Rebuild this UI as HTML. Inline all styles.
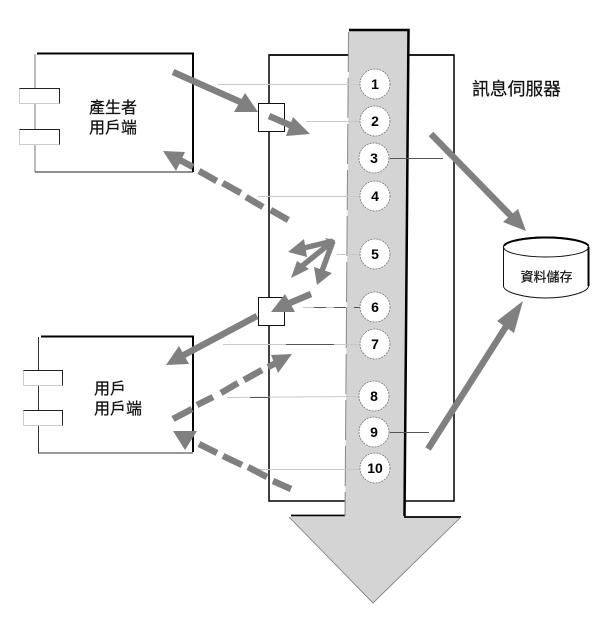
<!DOCTYPE html>
<html>
<head>
<meta charset="utf-8">
<style>
html,body{margin:0;padding:0;background:#fff;width:610px;height:625px;overflow:hidden}
svg{display:block}
text{font-family:"Liberation Sans","Noto Sans CJK TC",sans-serif;fill:#111;stroke:#111;stroke-width:.2px}
.n{font-weight:bold;font-size:14px;text-anchor:middle;fill:#000;stroke:none}
</style>
</head>
<body>
<svg width="610" height="625" viewBox="0 0 610 625" xmlns="http://www.w3.org/2000/svg">
<!-- server box -->
<rect x="269" y="55" width="185" height="446" fill="#fff" stroke="#000" stroke-width="1.500"/>

<!-- producer box -->
<rect x="35" y="54" width="158" height="118" fill="#fff" stroke="none"/>
<line x1="35" y1="54" x2="35" y2="172" stroke="#777" stroke-width="1"/>
<line x1="35" y1="172" x2="193" y2="172" stroke="#222" stroke-width="1"/>
<line x1="37" y1="53.500" x2="194" y2="53.500" stroke="#000" stroke-width="2"/>
<line x1="193" y1="53" x2="193" y2="172" stroke="#000" stroke-width="2"/>
<rect x="19.500" y="88.500" width="40" height="15" fill="#fff" stroke="#ccc" stroke-width="1"/>
<path d="M19.500 88.500H59.500V103.500" fill="none" stroke="#222" stroke-width="1"/>
<rect x="19.500" y="129.500" width="40" height="15" fill="#fff" stroke="#ccc" stroke-width="1"/>
<path d="M19.500 129.500H59.500V144.500" fill="none" stroke="#222" stroke-width="1"/>
<text x="113" y="113" font-size="16" text-anchor="middle">產生者</text>
<text x="113" y="133" font-size="16" text-anchor="middle">用戶端</text>

<!-- consumer box -->
<rect x="38" y="336" width="155" height="117" fill="#fff"/>
<line x1="38.500" y1="337" x2="38.500" y2="453" stroke="#333" stroke-width="1"/>
<line x1="38" y1="453" x2="193" y2="453" stroke="#333" stroke-width="1"/>
<line x1="41" y1="336.500" x2="194" y2="336.500" stroke="#000" stroke-width="2"/>
<line x1="193" y1="336" x2="193" y2="452" stroke="#000" stroke-width="2"/>
<rect x="23.500" y="370.500" width="39" height="15" fill="#fff" stroke="#ccc" stroke-width="1"/>
<path d="M23.500 370.500H62.500V385.500" fill="none" stroke="#222" stroke-width="1"/>
<rect x="23.500" y="410.500" width="39" height="15" fill="#fff" stroke="#ccc" stroke-width="1"/>
<path d="M23.500 410.500H62.500V425.500" fill="none" stroke="#222" stroke-width="1"/>
<text x="94" y="394" font-size="16">用戶</text>
<text x="94" y="414" font-size="16">用戶端</text>

<!-- big column arrow -->
<path d="M349 30.500L408.500 30.500L404.500 517.500L461 517.500L373 603L289 517L345 517Z" fill="#d4d4d4"/>
<path d="M349 30H408.500L404.500 516" fill="none" stroke="#000" stroke-width="2.500"/>
<path d="M291 515.500H345M404 517H461" fill="none" stroke="#000" stroke-width="1.800"/>
<path d="M348.500 32L345 516" fill="none" stroke="#888" stroke-width="1" stroke-dasharray="40 6"/>
<path d="M289 517L373 603L461 517" fill="none" stroke="#777" stroke-width="0.800"/>
<line x1="269" y1="55" x2="348" y2="55" stroke="#000" stroke-width="1.500"/>
<line x1="409" y1="55" x2="454" y2="55" stroke="#000" stroke-width="1.500"/>

<!-- leader lines -->
<g stroke="#c8c8c8" stroke-width="1" fill="none">
<line x1="218" y1="84.500" x2="361" y2="84.500"/>
<line x1="306" y1="121.500" x2="361" y2="121.500"/>
<line x1="258" y1="196.500" x2="361" y2="196.500"/>
<line x1="337" y1="254.500" x2="361" y2="254.500"/>
<line x1="303" y1="307.500" x2="361" y2="307.500"/>
<line x1="223" y1="344.500" x2="361" y2="344.500"/>
<line x1="227" y1="397.500" x2="361" y2="396.500"/>
<line x1="258" y1="469.500" x2="361" y2="469.500"/>
</g>
<g stroke="#555" stroke-width="1" fill="none">
<line x1="390" y1="158.500" x2="443" y2="158.500"/>
<line x1="390" y1="432.500" x2="429" y2="432.500"/>
<line x1="314" y1="307.500" x2="361" y2="307.500" stroke-dasharray="12 8"/>
<line x1="286" y1="344.500" x2="334" y2="344.500"/>
<line x1="250" y1="397.500" x2="269" y2="397.500"/>
</g>

<!-- squares -->
<rect x="258.500" y="103.500" width="26" height="28" fill="#fff" stroke="#111" stroke-width="1"/>
<rect x="258.500" y="297.500" width="26" height="28" fill="#fff" stroke="#111" stroke-width="1"/>

<!-- circles -->
<g fill="#fff" stroke="#777" stroke-width="0.800" stroke-dasharray="2 1">
<circle cx="375" cy="84" r="15"/>
<circle cx="375" cy="121" r="15"/>
<circle cx="374" cy="158" r="15"/>
<circle cx="375" cy="196" r="15"/>
<circle cx="375" cy="254" r="15"/>
<circle cx="375" cy="307" r="15"/>
<circle cx="375" cy="344" r="15"/>
<circle cx="374" cy="396" r="15"/>
<circle cx="374" cy="432" r="15"/>
<circle cx="375" cy="468" r="15"/>
</g>
<text class="n" x="375" y="89">1</text>
<text class="n" x="375" y="126">2</text>
<text class="n" x="374" y="163">3</text>
<text class="n" x="375" y="201">4</text>
<text class="n" x="375" y="259">5</text>
<text class="n" x="375" y="312">6</text>
<text class="n" x="375" y="349">7</text>
<text class="n" x="374" y="401">8</text>
<text class="n" x="374" y="437">9</text>
<text class="n" x="375" y="473">10</text>

<text x="472" y="95" font-size="17.800">訊息伺服器</text>

<!-- data store -->
<path d="M503.500 247V286C503.500 292 524 298 546 298C568 298 588.500 292 588.500 286V247" fill="#fff" stroke="#111" stroke-width="1"/>
<ellipse cx="546" cy="247" rx="42.500" ry="10" fill="#fff" stroke="#111" stroke-width="1"/>
<path d="M504 246C506 241 526 237.500 546 237.500C566 237.500 586 241 588.500 246" fill="none" stroke="#000" stroke-width="2"/>
<line x1="588.500" y1="247" x2="588.500" y2="286" stroke="#000" stroke-width="2"/>
<text x="546.500" y="281.500" font-size="13" text-anchor="middle">資料儲存</text>

<!-- gray arrows -->
<g fill="#808080" stroke="none">
<polygon points="258,112 234,112 245,93"/>
<polygon points="310,134 286,136 293,117"/>
<polygon points="526,231 503,222 518,209"/>
<polygon points="523,301 497,321 514,333"/>
<polygon points="271,312 285,294 295,312"/>
<polygon points="166,365 179,346 189,364"/>
<polygon points="163,151 185,152 176,171"/>
<polygon points="292,354 271,355 278,373"/>
<polygon points="173,431 197,431 185,450"/>
<polygon points="288,252 304,239 307,257"/>
<polygon points="291,278 297,261 309,269"/>
<polygon points="317,285 314,267 332,273"/>
</g>
<g stroke="#808080" fill="none" stroke-width="6.500">
<line x1="173" y1="72" x2="245" y2="104"/>
<line x1="269" y1="116" x2="292" y2="126"/>
<line x1="431" y1="134" x2="512" y2="217"/>
<line x1="428" y1="449" x2="507" y2="325"/>
<line x1="311" y1="294" x2="285" y2="305"/>
<line x1="257" y1="316" x2="182" y2="356"/>
<line x1="333" y1="241" x2="304" y2="248" stroke-width="5.500"/>
<line x1="333" y1="241" x2="302" y2="266" stroke-width="5.500"/>
<line x1="333" y1="241" x2="322" y2="271" stroke-width="5.500"/>
</g>
<polygon points="325,238 335,240 333,247" fill="#808080"/>
<!-- dashed arrows: individual dashes -->
<g stroke="#808080" fill="none" stroke-width="6.500">
<line x1="288.300" y1="220" x2="270.700" y2="210"/>
<line x1="263" y1="207" x2="246" y2="197"/>
<line x1="240.700" y1="193" x2="222.700" y2="183"/>
<line x1="216.700" y1="181" x2="199" y2="171"/>
<line x1="193" y1="167" x2="178" y2="159"/>

<line x1="173" y1="419" x2="192" y2="409"/>
<line x1="197" y1="405" x2="213" y2="397"/>
<line x1="221" y1="393" x2="238" y2="383"/>
<line x1="244" y1="380" x2="262" y2="370"/>
<line x1="268" y1="367" x2="280" y2="361"/>

<line x1="291" y1="489" x2="273" y2="481"/>
<line x1="267" y1="477" x2="248" y2="467"/>
<line x1="242" y1="465" x2="223" y2="456"/>
<line x1="217" y1="453" x2="199" y2="444"/>
</g>
</svg>
</body>
</html>
